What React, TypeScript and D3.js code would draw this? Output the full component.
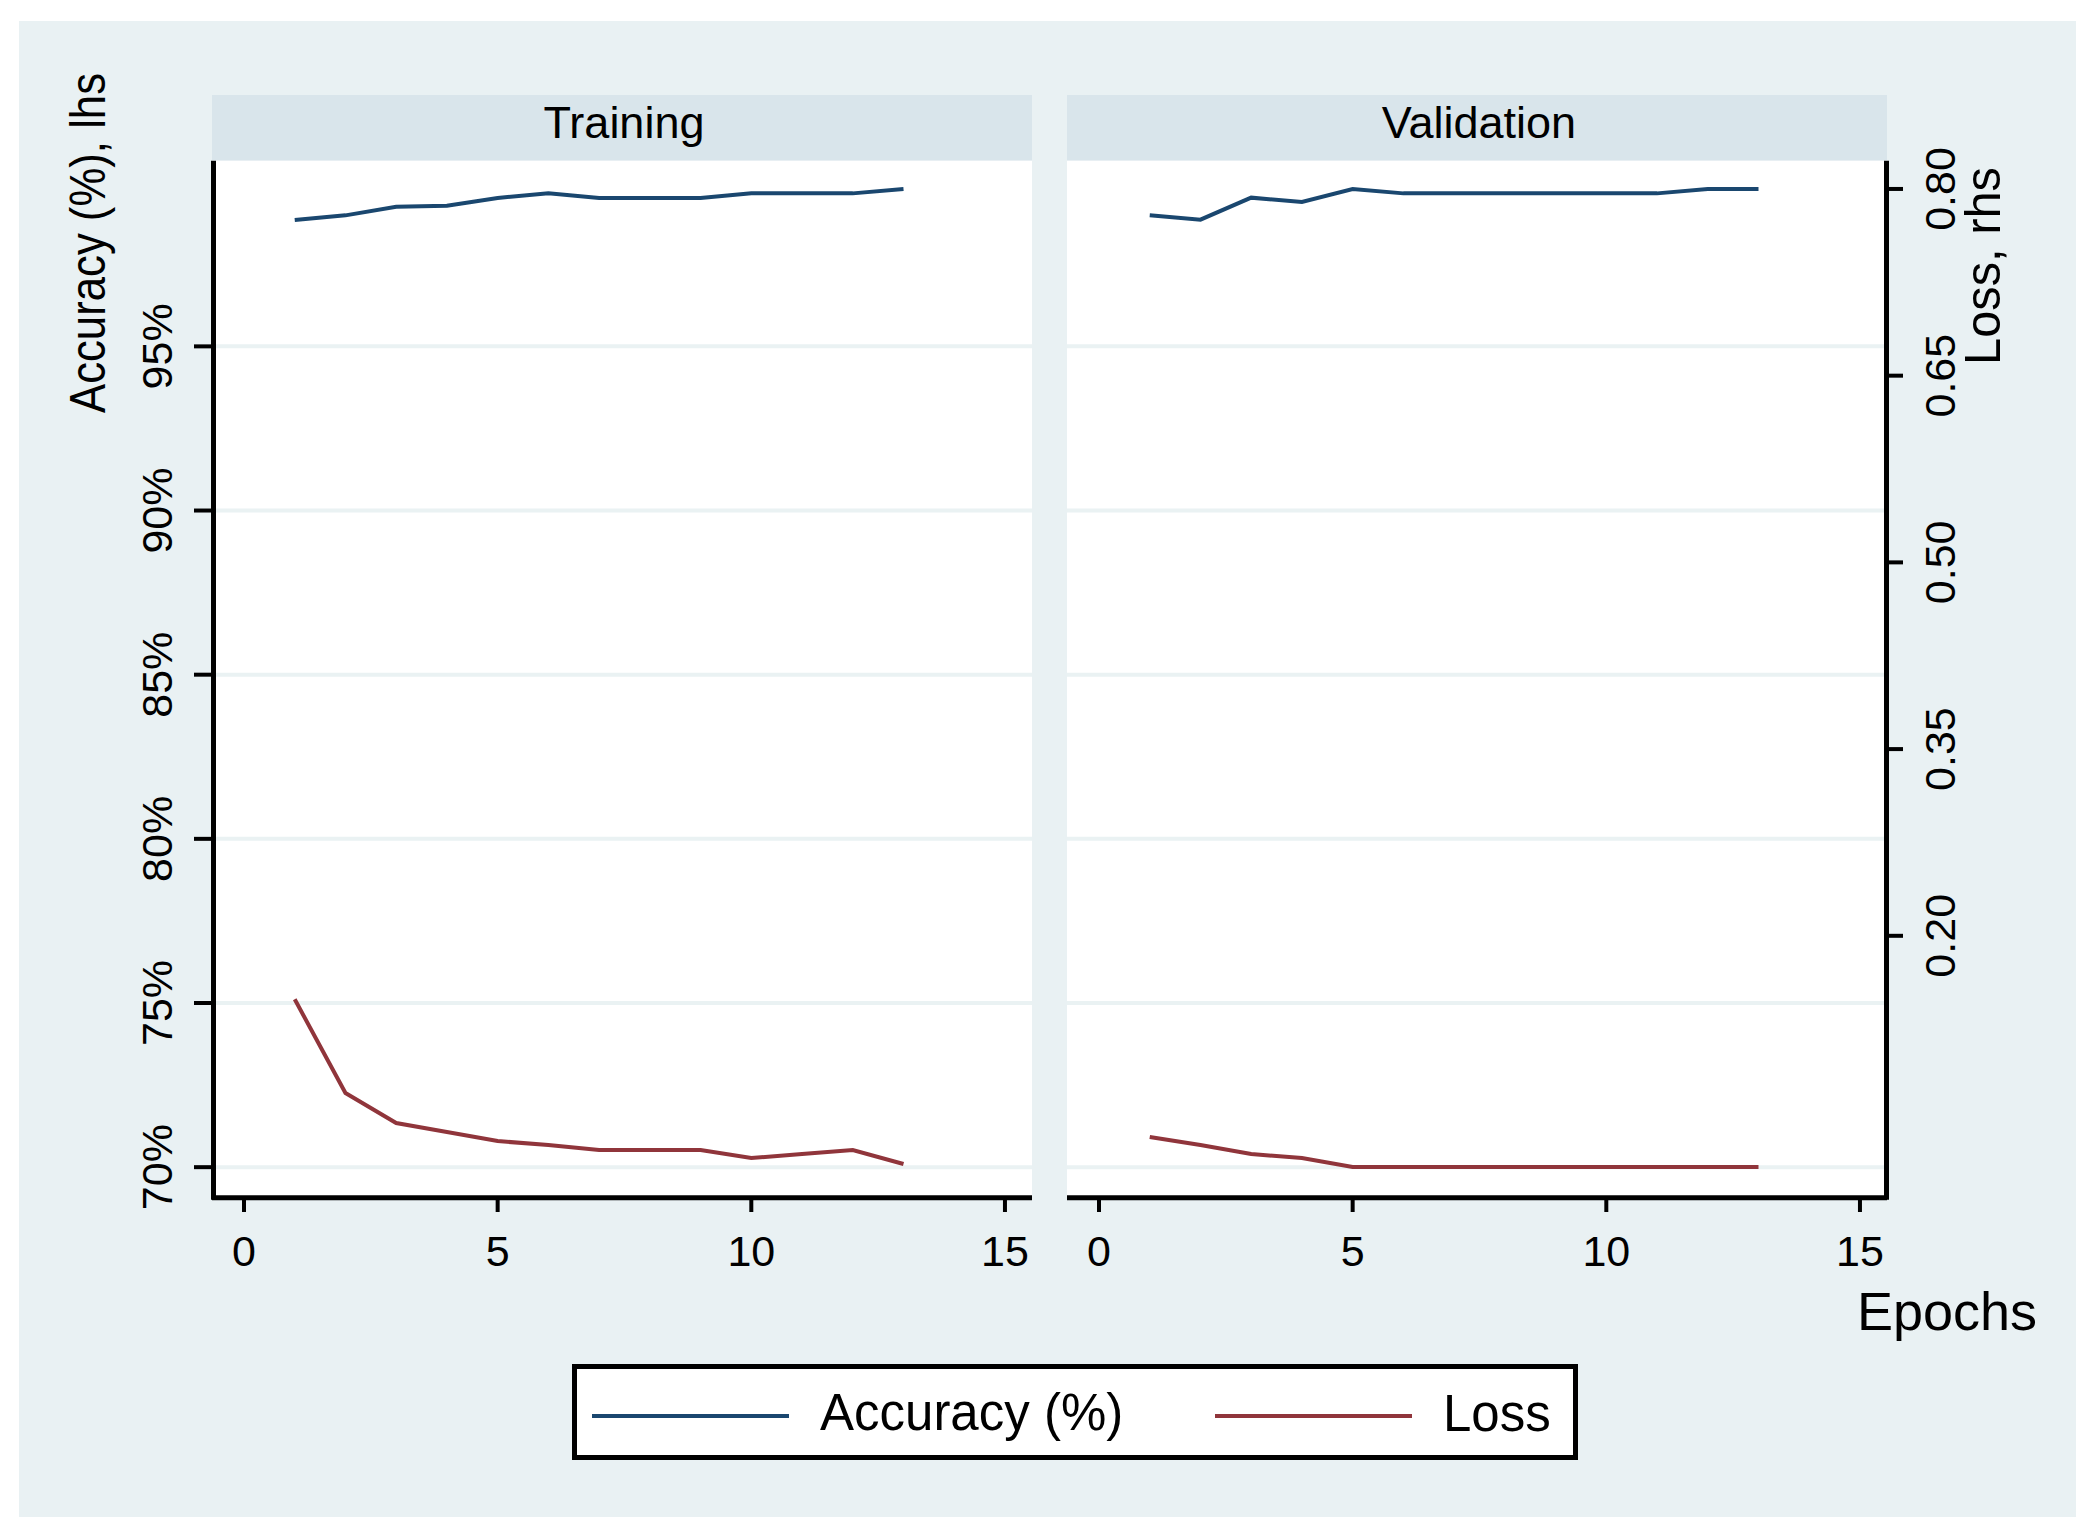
import React from 'react';
import * as d3 from 'd3';

// ---- data ----
const epochs = [1, 2, 3, 4, 5, 6, 7, 8, 9, 10, 11, 12, 13];
const trainAccuracy = [98.85, 98.99, 99.25, 99.28, 99.52, 99.66, 99.52, 99.52, 99.52, 99.66, 99.66, 99.66, 99.79];
const trainLoss = [0.149, 0.0737, 0.0496, 0.0424, 0.0351, 0.0319, 0.0279, 0.0279, 0.0279, 0.0215, 0.0247, 0.0279, 0.0167];
const valAccuracy = [98.99, 98.86, 99.53, 99.4, 99.79, 99.66, 99.66, 99.66, 99.66, 99.66, 99.66, 99.79, 99.79];
const valLoss = [0.0384, 0.0319, 0.0247, 0.0215, 0.0143, 0.0143, 0.0143, 0.0143, 0.0143, 0.0143, 0.0143, 0.0143, 0.0143];
const panelNames = ['Training', 'Validation'];
const xTicks = [0, 5, 10, 15];
const accTicks = [70, 75, 80, 85, 90, 95];
const lossTicks = [0.2, 0.35, 0.5, 0.65, 0.8];
const legendLabels = ['Accuracy (%)', 'Loss'];

const W = 2076;
const H = 1517;
const FONT = '"Liberation Sans", Arial, sans-serif';
const NAVY = '#1a476f';
const MAROON = '#90353b';
const BG = '#e9f1f3';
const STRIP = '#d9e5eb';
const GRID = '#eaf2f3';

const panelX = [212, 1067];
const panelW = 820;
const stripTop = 95;
const plotTop = 160.7;
const plotBottom = 1197.7;

const yAcc = d3.scaleLinear().domain([69.07, 100.655]).range([plotBottom, plotTop]);
const yLoss = d3.scaleLinear().domain([-0.0104, 0.8227]).range([plotBottom, plotTop]);

export default function App() {
  const series = [
    { acc: trainAccuracy, loss: trainLoss },
    { acc: valAccuracy, loss: valLoss },
  ];
  return (
    <svg width={W} height={H} style={{ position: 'absolute', left: 0, top: 0, display: 'block' }} fontFamily={FONT}>
      <rect x={0} y={0} width={W} height={H} fill="#ffffff" />
      <rect x={19} y={21} width={W - 19} height={H - 21} fill={BG} />
      {panelNames.map((name, pi) => {
        const P = panelX[pi];
        const x = d3.scaleLinear().domain([-0.6308, 15.533]).range([P, P + panelW]);
        const accLine = d3.line<number>().x((_, i) => x(epochs[i])).y((d) => yAcc(d));
        const lossLine = d3.line<number>().x((_, i) => x(epochs[i])).y((d) => yLoss(d));
        return (
          <g key={name}>
            <rect x={P} y={stripTop} width={panelW} height={plotTop - stripTop} fill={STRIP} />
            <text x={P + panelW / 2 + 2} y={138} fontSize={45} textAnchor="middle" fill="#000">{name}</text>
            <rect x={P} y={plotTop} width={panelW} height={plotBottom - plotTop} fill="#ffffff" />
            {accTicks.map((t) => (
              <line key={t} x1={P} x2={P + panelW} y1={yAcc(t)} y2={yAcc(t)} stroke={GRID} strokeWidth={4} />
            ))}
            <path d={accLine(series[pi].acc) || ''} fill="none" stroke={NAVY} strokeWidth={4} />
            <path d={lossLine(series[pi].loss) || ''} fill="none" stroke={MAROON} strokeWidth={4} />
            {/* x axis */}
            <line x1={P} x2={P + panelW} y1={plotBottom} y2={plotBottom} stroke="#000" strokeWidth={5} />
            {xTicks.map((t) => (
              <g key={t}>
                <line x1={x(t)} x2={x(t)} y1={plotBottom} y2={1212} stroke="#000" strokeWidth={4} />
                <text x={x(t)} y={1266} fontSize={43} textAnchor="middle" fill="#000">{t}</text>
              </g>
            ))}
          </g>
        );
      })}
      {/* left axis */}
      <line x1={213.5} x2={213.5} y1={plotTop} y2={plotBottom + 2} stroke="#000" strokeWidth={5} />
      {accTicks.map((t) => (
        <g key={t}>
          <line x1={194} x2={213} y1={yAcc(t)} y2={yAcc(t)} stroke="#000" strokeWidth={4} />
          <text transform={`translate(172,${yAcc(t)}) rotate(-90)`} fontSize={43} textAnchor="middle" fill="#000">{`${t}%`}</text>
        </g>
      ))}
      <text transform="translate(105,243) rotate(-90)" fontSize={50} textAnchor="middle" textLength={340} lengthAdjust="spacingAndGlyphs" fill="#000">Accuracy (%), lhs</text>
      {/* right axis */}
      <line x1={1886.5} x2={1886.5} y1={plotTop} y2={plotBottom + 2} stroke="#000" strokeWidth={5} />
      {lossTicks.map((t) => (
        <g key={t}>
          <line x1={1887} x2={1903} y1={yLoss(t)} y2={yLoss(t)} stroke="#000" strokeWidth={4} />
          <text transform={`translate(1955,${yLoss(t)}) rotate(-90)`} fontSize={43} textAnchor="middle" fill="#000">{t.toFixed(2)}</text>
        </g>
      ))}
      <text transform="translate(2000,266) rotate(-90)" fontSize={50} textAnchor="middle" textLength={198} lengthAdjust="spacingAndGlyphs" fill="#000">Loss, rhs</text>
      <text x={2037} y={1330} fontSize={54} textAnchor="end" fill="#000">Epochs</text>
      {/* legend */}
      <rect x={574.5} y={1366.5} width={1001} height={91} fill="#ffffff" stroke="#000" strokeWidth={5} />
      <line x1={592} x2={789} y1={1416} y2={1416} stroke={NAVY} strokeWidth={4} />
      <text x={820} y={1430} fontSize={51} fill="#000">{legendLabels[0]}</text>
      <line x1={1215} x2={1412} y1={1416} y2={1416} stroke={MAROON} strokeWidth={4} />
      <text x={1443} y={1431} fontSize={51} fill="#000">{legendLabels[1]}</text>
    </svg>
  );
}
